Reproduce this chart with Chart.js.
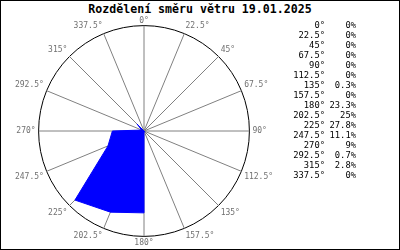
<!DOCTYPE html>
<html>
<head>
<meta charset="utf-8">
<script src="https://cdn.jsdelivr.net/npm/chart.js@4/dist/chart.umd.min.js"></script>
<style>
  body { margin: 0; background: #fff; }
  #box { position: relative; width: 400px; height: 250px; box-sizing: border-box; border: 1px solid #000; background: #fff; overflow: hidden; }
  #title { position: absolute; top: 1px; left: 0; width: 398px; text-align: center; font: bold 11.6px 'DejaVu Sans Mono', monospace; color: #000; }
  #wrap { position: absolute; left: -2px; top: 14px; width: 290px; height: 234px; }
  #legend { position: absolute; left: 279px; top: 19px; font: 8.8px 'DejaVu Sans Mono', monospace; line-height: 10px; color: #000; }
  #legend .a { display: inline-block; width: 45px; text-align: right; }
  #legend .b { display: inline-block; width: 31px; text-align: right; }
</style>
</head>
<body>
<div id="box">
  <div id="title">Rozdělení směru větru 19.01.2025</div>
  <div id="wrap"><canvas id="windRose" width="290" height="234"></canvas></div>
  <div id="legend"></div>
</div>
<script>
// wind directions and share of time (%)
const directions = ['0°', '22.5°', '45°', '67.5°', '90°', '112.5°', '135°', '157.5°',
                    '180°', '202.5°', '225°', '247.5°', '270°', '292.5°', '315°', '337.5°'];
const shares = [0, 0, 0, 0, 0, 0, 0.3, 0, 23.3, 25, 27.8, 11.1, 9, 0.7, 2.8, 0];
const scaleMax = 30;

// table on the right
const legend = document.getElementById('legend');
directions.forEach((d, i) => {
    const row = document.createElement('div');
    row.innerHTML = '<span class="a">' + d + '</span><span class="b">' + shares[i] + '%</span>';
    legend.appendChild(row);
});

const ctx = document.getElementById('windRose').getContext('2d');
new Chart(ctx, {
    type: 'radar',
    data: {
        labels: directions,
        datasets: [{
            data: shares,
            fill: true,
            backgroundColor: '#0000ff',
            borderColor: '#0000ff',
            borderWidth: 1,
            pointRadius: 0,
            tension: 0
        }]
    },
    options: {
        responsive: false,
        animation: false,
        plugins: { legend: { display: false }, tooltip: { enabled: false } },
        scales: {
            r: {
                min: 0,
                max: scaleMax,
                ticks: { display: false, stepSize: scaleMax },
                grid: { circular: true, color: '#000', lineWidth: 1 },
                angleLines: { color: '#808080', lineWidth: 1 },
                pointLabels: {
                    color: '#707070',
                    // top label sits close to the circle, the rest a bit off
                    padding: c => c.index === 0 ? 0 : (c.index === 8 ? 2 : 3),
                    font: { family: 'DejaVu Sans Mono', size: 8 }
                }
            }
        }
    }
});
</script>
</body>
</html>
